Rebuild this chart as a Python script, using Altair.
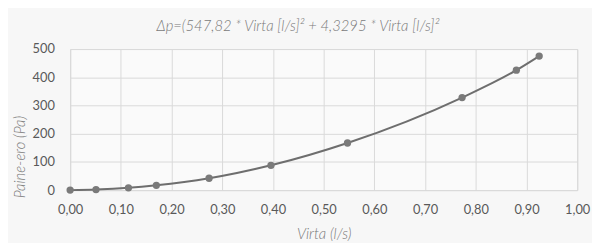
import altair as alt
import pandas as pd

flow = [0.0, 0.051, 0.115, 0.17, 0.274, 0.396, 0.547, 0.773, 0.88, 0.925]
pressure = [0, 2, 8, 17, 42, 88, 167, 328, 425, 475]
x_ticks = [0.0, 0.1, 0.2, 0.3, 0.4, 0.5, 0.6, 0.7, 0.8, 0.9, 1.0]
y_ticks = [0, 100, 200, 300, 400, 500]

df = pd.DataFrame({"Virta": flow, "Paine": pressure})

title_text = "Δp=(547,82 * Virta [l/s]² + 4,3295 * Virta [l/s]²"

common = dict(
    grid=True,
    gridColor="#d9d9d9",
    domain=False,
    ticks=False,
    labelOverlap=False,
    labelFlush=False,
    labelFont="Lato",
    labelFontSize=13,
    labelColor="#595959",
    titleFont="Lato",
    titleFontStyle="italic",
    titleFontWeight=300,
    titleFontSize=15,
    titleColor="#7a7a7a",
)

x_enc = alt.X(
    "Virta:Q",
    scale=alt.Scale(domain=[0, 1], nice=False),
    axis=alt.Axis(
        title="Virta (l/s)",
        values=x_ticks,
        labelExpr="replace(format(datum.value, '.2f'), '.', ',')",
        labelPadding=14,
        titlePadding=10,
        **common,
    ),
)
y_enc = alt.Y(
    "Paine:Q",
    scale=alt.Scale(domain=[0, 500], nice=False),
    axis=alt.Axis(
        title="Paine-ero (Pa)",
        values=y_ticks,
        labelPadding=16,
        titleAngle=270,
        titleBaseline="middle",
        titleX=-51,
        titleY=109,
        **common,
    ),
)

base = alt.Chart(df).encode(x=x_enc, y=y_enc)
line = base.mark_line(interpolate="monotone", color="#6e6e6e", strokeWidth=2)
points = base.mark_circle(color="#7a7a7a", opacity=1, size=55)

chart = (
    alt.layer(line, points)
    .properties(
        width=514,
        height=143,
        title=alt.TitleParams(
            text=title_text,
            font="Lato",
            fontStyle="italic",
            fontWeight=300,
            fontSize=15,
            color="#7a7a7a",
            anchor="middle",
            dx=-26,
            offset=9,
        ),
        autosize=alt.AutoSizeParams(type="none"),
        padding={"left": 63, "top": 40, "right": 15, "bottom": 52},
        background="#f7f7f7",
    )
    .configure_view(stroke="#d9d9d9", fill="#fafafa")
)

chart.save("out.html", embed_options={"renderer": "svg", "actions": False})
